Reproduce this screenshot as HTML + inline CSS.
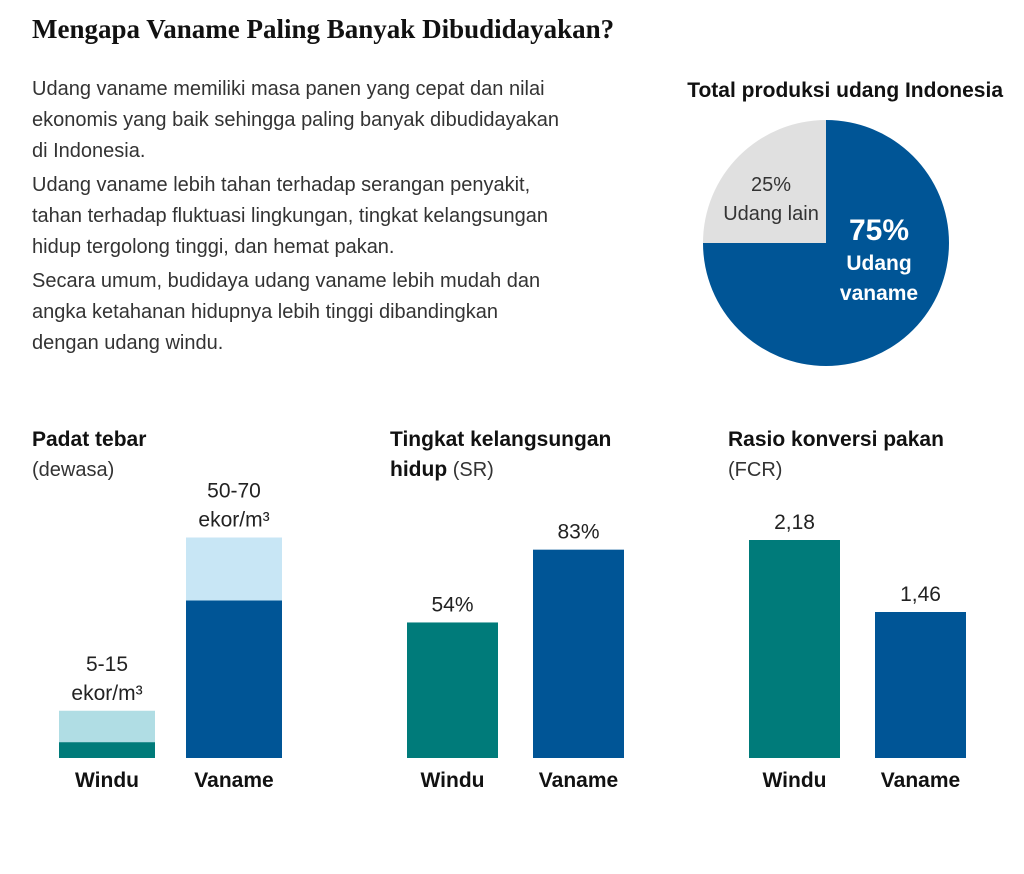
<!DOCTYPE html>
<html><head><meta charset="utf-8"><style>
html,body{margin:0;padding:0;background:#fff;}
svg{display:block;font-family:"Liberation Sans",sans-serif;}
.b{fill:#333;font-size:20px;}
.h{fill:#111;font-size:21px;font-weight:bold;}
.s{fill:#333;font-size:20px;}
.x{fill:#111;font-size:21px;font-weight:bold;text-anchor:middle;}
.v{fill:#222;font-size:21px;text-anchor:middle;}
</style></head><body>
<svg id="c" width="1024" height="874" viewBox="0 0 1024 874">
<text x="32" y="38" font-family="Liberation Serif,serif" font-size="27" font-weight="bold" fill="#111">Mengapa Vaname Paling Banyak Dibudidayakan?</text>
<g>
<text class="b" x="32" y="95">Udang vaname memiliki masa panen yang cepat dan nilai</text>
<text class="b" x="32" y="126">ekonomis yang baik sehingga paling banyak dibudidayakan</text>
<text class="b" x="32" y="157">di Indonesia.</text>
<text class="b" x="32" y="191">Udang vaname lebih tahan terhadap serangan penyakit,</text>
<text class="b" x="32" y="222">tahan terhadap fluktuasi lingkungan, tingkat kelangsungan</text>
<text class="b" x="32" y="253">hidup tergolong tinggi, dan hemat pakan.</text>
<text class="b" x="32" y="287">Secara umum, budidaya udang vaname lebih mudah dan</text>
<text class="b" x="32" y="318">angka ketahanan hidupnya lebih tinggi dibandingkan</text>
<text class="b" x="32" y="349">dengan udang windu.</text>
</g>
<text x="1003" y="97" text-anchor="end" class="h">Total produksi udang Indonesia</text>
<g id="pie"></g>
<g>
<text x="771" y="191" text-anchor="middle" fill="#333" font-size="20">25%</text>
<text x="771" y="220" text-anchor="middle" fill="#333" font-size="20">Udang lain</text>
<text x="879" y="240" text-anchor="middle" fill="#fff" font-size="30" font-weight="bold">75%</text>
<text x="879" y="270" text-anchor="middle" fill="#fff" font-size="21" font-weight="bold">Udang</text>
<text x="879" y="300" text-anchor="middle" fill="#fff" font-size="21" font-weight="bold">vaname</text>
</g>
<g>
<text class="h" x="32" y="446">Padat tebar</text>
<text class="s" x="32" y="476">(dewasa)</text>
<text class="h" x="390" y="446">Tingkat kelangsungan</text>
<text x="390" y="476"><tspan class="h">hidup</tspan><tspan class="s"> (SR)</tspan></text>
<text class="h" x="728" y="446">Rasio konversi pakan</text>
<text class="s" x="728" y="476">(FCR)</text>
</g>
<g id="bars"></g>
</svg>
<script>
const pieLabels=["Udang vaname","Udang lain"];
const pieValues=[75,25];
const pieColors=["#005596","#e0e0e0"];
const densityCats=["Windu","Vaname"];
const densityMin=[5,50];
const densityMax=[15,70];
const densityLabels=["5-15","50-70"];
const srCats=["Windu","Vaname"];
const srValues=[54,83];
const srLabels=["54%","83%"];
const fcrCats=["Windu","Vaname"];
const fcrValues=[2.18,1.46];
const fcrLabels=["2,18","1,46"];
const NS="http://www.w3.org/2000/svg";
function mk(t,a,p){const e=document.createElementNS(NS,t);for(const k in a)e.setAttribute(k,a[k]);p.appendChild(e);return e;}
// pie
const pie=document.getElementById('pie');
const cx=826,cy=243,r=123;
const tot=pieValues.reduce((a,b)=>a+b,0);let ang=0;
pieValues.forEach((v,i)=>{
 const a0=ang,a1=ang+v/tot*2*Math.PI;ang=a1;
 const x0=cx+r*Math.sin(a0),y0=cy-r*Math.cos(a0),x1=cx+r*Math.sin(a1),y1=cy-r*Math.cos(a1);
 const p=mk('path',{d:`M${cx},${cy}L${x0},${y0}A${r},${r} 0 ${a1-a0>Math.PI?1:0} 1 ${x1},${y1}Z`,fill:pieColors[i]},pie);
 
 
});
const g=document.getElementById('bars');
const base=758;
function yS(k){return v=>base-v*k;}
const colsT=["#007b7a","#005596"],colsL=["#b0dde4","#c8e6f5"];
function axisLabels(cats,xs,w){cats.forEach((c,i)=>{const t=mk('text',{x:xs[i]+w/2,y:787,class:'x'},g);t.textContent=c;
 
 });}
// density
{const y=yS(3.15),xs=[59,186],w=96;
 densityCats.forEach((c,i)=>{
  const l=mk('rect',{x:xs[i],y:y(densityMax[i]),width:w,height:base-y(densityMax[i]),fill:colsL[i]},g);
  
  
  const d=mk('rect',{x:xs[i],y:y(densityMin[i]),width:w,height:base-y(densityMin[i]),fill:colsT[i]},g);
  
  
  const t1=mk('text',{x:xs[i]+w/2,y:y(densityMax[i])-40,class:'v'},g);t1.textContent=densityLabels[i];
  
  
  const t2=mk('text',{x:xs[i]+w/2,y:y(densityMax[i])-11,class:'v'},g);t2.textContent="ekor/m³";
  
  
 });axisLabels(densityCats,xs,w);}
function simple(cats,vals,labs,k,xs,w,nm){const y=yS(k);
 cats.forEach((c,i)=>{
  const b=mk('rect',{x:xs[i],y:y(vals[i]),width:w,height:base-y(vals[i]),fill:colsT[i]},g);
  
  
  const t=mk('text',{x:xs[i]+w/2,y:y(vals[i])-11,class:'v'},g);t.textContent=labs[i];
  
  
 });axisLabels(cats,xs,w);}
simple(srCats,srValues,srLabels,2.51,[407,533],91,'sr');
simple(fcrCats,fcrValues,fcrLabels,100,[749,875],91,'fcr');
</script>
</body></html>
